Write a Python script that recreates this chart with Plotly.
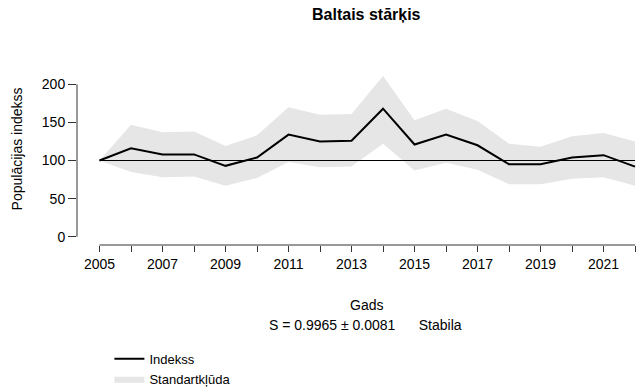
import plotly.graph_objects as go

years = list(range(2005, 2023))
index_vals = [100, 116, 108, 108, 93, 104, 134, 125, 126, 168, 121, 134, 120, 95, 95, 104, 107, 92]
upper_vals = [100, 147, 137, 138, 119, 133, 170, 160, 161, 211, 153, 168, 152, 122, 118, 132, 136, 125]
lower_vals = [100, 85, 78, 79, 67, 77, 98, 91, 92, 122, 87, 97, 88, 69, 69, 76, 78, 67]
baseline = 100
y_ticks = [0, 50, 100, 150, 200]
x_label_years = [2005, 2007, 2009, 2011, 2013, 2015, 2017, 2019, 2021]

FONT = "Liberation Sans, Arial, sans-serif"

fig = go.Figure()
fig.add_trace(go.Scatter(
    x=years + years[::-1], y=upper_vals + lower_vals[::-1],
    fill="toself", fillcolor="#E6E6E6", line=dict(width=0, color="#E6E6E6"),
    mode="lines", name="Standartkļūda", legendrank=2, hoverinfo="skip"))
fig.add_trace(go.Scatter(
    x=[years[0], years[-1]], y=[baseline, baseline], mode="lines",
    line=dict(color="black", width=1), showlegend=False))
fig.add_trace(go.Scatter(
    x=years, y=index_vals, mode="lines", line=dict(color="black", width=2),
    name="Indekss", legendrank=1))

ticktext = [str(y) if y in x_label_years else "" for y in years]

fig.update_layout(
    width=636, height=387,
    margin=dict(l=77, r=0, t=70, b=142, autoexpand=False),
    paper_bgcolor="white", plot_bgcolor="white",
    font=dict(family=FONT, size=14, color="black"),
    showlegend=True,
    legend=dict(x=0.058, y=-0.565, xanchor="left", yanchor="top",
                bgcolor="rgba(0,0,0,0)", font=dict(size=13), tracegroupgap=0,
                itemwidth=30),
    xaxis=dict(range=[2004.286, 2022.03], tickvals=years, ticktext=ticktext,
               ticks="outside", ticklen=6, tickcolor="#333", showgrid=False,
               zeroline=False, showline=False, tickfont=dict(size=14)),
    yaxis=dict(range=[-10.9, 218.8], tickvals=y_ticks, ticks="outside", ticklen=8,
               tickcolor="#333", showgrid=False, zeroline=False, showline=False,
               tickfont=dict(size=14)),
    shapes=[
        dict(type="line", xref="paper", yref="y", x0=0, x1=0, y0=0, y1=200,
             line=dict(color="#333", width=1)),
        dict(type="line", xref="x", yref="paper", x0=2005, x1=2022, y0=0, y1=0,
             line=dict(color="#333", width=1)),
    ],
    annotations=[
        dict(text="<b>Baltais stārķis</b>", xref="paper", yref="paper",
             x=0.518, y=1.315, showarrow=False, font=dict(size=16),
             xanchor="center", yanchor="middle"),
        dict(text="Populācijas indekss", xref="paper", yref="paper",
             x=-0.108, y=0.55, textangle=-90, showarrow=False,
             font=dict(size=14), xanchor="center", yanchor="middle"),
        dict(text="Gads", xref="paper", yref="paper", x=0.518, y=-0.343,
             showarrow=False, font=dict(size=14), xanchor="center", yanchor="middle"),
        dict(text="S = 0.9965 ± 0.0081      Stabila", xref="paper", yref="paper",
             x=0.516, y=-0.457, showarrow=False, font=dict(size=14),
             xanchor="center", yanchor="middle"),
    ],
)

fig.write_html("out.html")
